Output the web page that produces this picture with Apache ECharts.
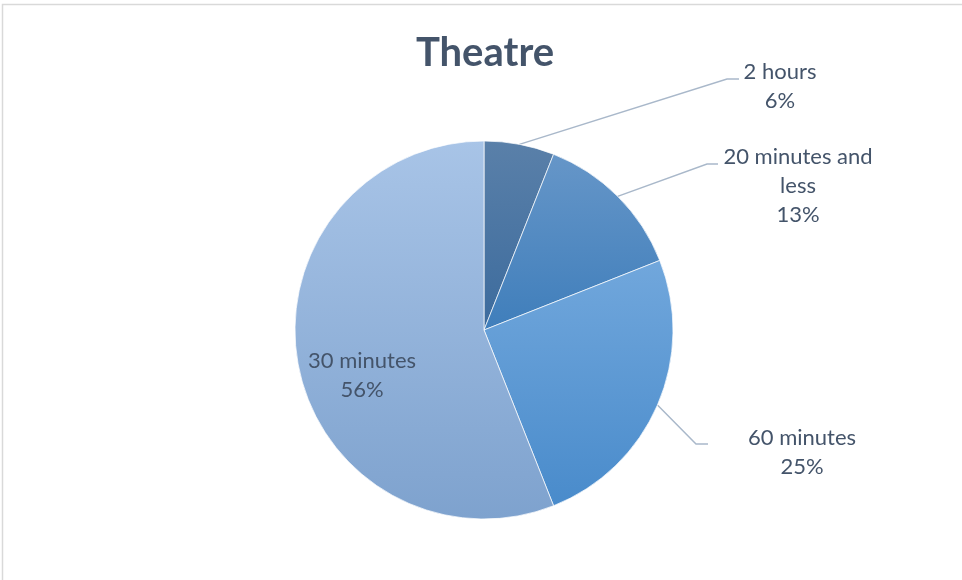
<!DOCTYPE html>
<html>
<head>
<meta charset="utf-8">
<script src="https://cdn.jsdelivr.net/npm/echarts@6/dist/echarts.min.js"></script>
<style>
  html, body { margin: 0; padding: 0; background: #fff; }
  #chart { width: 962px; height: 580px; }
</style>
</head>
<body>
<div id="chart"></div>
<script>
// Share of audience by preferred duration
const categories = ['2 hours', '20 minutes and\nless', '60 minutes', '30 minutes'];
const shares = [6, 13, 25, 56];

// Slice gradients (top colour, bottom colour)
const sliceTop = ['#5a80a9', '#6696c8', '#71a7dc', '#a8c4e7'];
const sliceBottom = ['#3c6b9d', '#3f7ebb', '#498bcb', '#7ea2ce'];

const textColor = '#44546a';
const center = [484, 330];
const radius = 189;

// Label anchor offsets from the pie centre, and where each leader line bends
const labelSpots = [
  { dx: 296, dy: -244, bend: [727, 79], end: [739, 79] },
  { dx: 314, dy: -144, bend: [707, 164], end: [718, 164] },
  { dx: 318, dy: 122, bend: [696, 444], end: [708, 444] },
  { dx: -122, dy: 45, bend: null, end: null }
];

const chart = echarts.init(document.getElementById('chart'), null, { renderer: 'canvas' });

const data = categories.map((name, i) => ({
  name: name,
  value: shares[i],
  itemStyle: {
    color: new echarts.graphic.LinearGradient(0, 0, 0, 1, [
      { offset: 0, color: sliceTop[i] },
      { offset: 1, color: sliceBottom[i] }
    ])
  },
  label: i === 3 ? { position: 'inside' } : {},
  labelLine: i === 3 ? { show: false } : {}
}));

chart.setOption({
  animation: false,
  title: {
    text: 'Theatre',
    left: 480,
    top: 28,
    textAlign: 'center',
    textStyle: {
      fontFamily: 'Lato',
      fontWeight: 'bold',
      fontSize: 40,
      color: textColor
    }
  },
  graphic: [{
    type: 'rect',
    shape: { x: 2.5, y: 4.5, width: 1000, height: 1000 },
    style: { fill: 'none', stroke: '#d9d9d9', lineWidth: 1.5 },
    silent: true,
    z: -1
  }],
  series: [{
    type: 'pie',
    center: center,
    radius: radius,
    startAngle: 90,
    clockwise: true,
    data: data,
    itemStyle: { borderColor: 'rgba(255,255,255,0.7)', borderWidth: 1 },
    label: {
      show: true,
      position: 'outside',
      formatter: p => p.name + '\n' + p.value + '%',
      fontFamily: 'Lato',
      fontSize: 22,
      lineHeight: 29,
      color: textColor,
      align: 'center'
    },
    labelLine: {
      show: true,
      lineStyle: { color: '#a9b8ca', width: 1.5 }
    },
    emphasis: { disabled: true },
    labelLayout: function (params) {
      const s = labelSpots[params.dataIndex];
      const out = {
        x: center[0] + s.dx,
        y: center[1] + s.dy,
        align: 'center',
        verticalAlign: 'middle'
      };
      if (s.bend && params.labelLinePoints) {
        out.labelLinePoints = [params.labelLinePoints[0], s.bend, s.end];
      }
      return out;
    }
  }]
});
</script>
</body>
</html>
